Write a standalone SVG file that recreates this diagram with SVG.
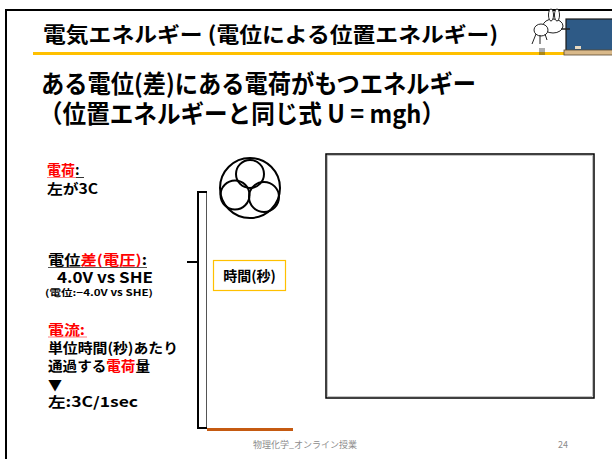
<svg xmlns="http://www.w3.org/2000/svg" width="612" height="459" viewBox="0 0 612 459">
  <style>
    .jp { font-family: "Noto Sans CJK JP", "Noto Sans", sans-serif; }
    .b { font-weight: bold; }
    .red { fill: #FF0000; }
    .ink { fill: #000000; }
    .line { fill: none; stroke: #000000; }
    .foot { font-family: "Noto Sans CJK JP", "Noto Sans", sans-serif; fill: #8C8C8C; font-size: 9px; }
  </style>

  <rect x="0" y="0" width="612" height="459" fill="#FFFFFF"/>

  <!-- slide frame -->
  <g id="frame">
    <line x1="6" y1="10" x2="612" y2="10" stroke="#000" stroke-width="2"/>
    <line x1="6" y1="9" x2="6" y2="459" stroke="#000" stroke-width="2"/>
  </g>

  <!-- title bar -->
  <g id="title">
    <text class="jp b ink" x="43" y="42" font-size="21" textLength="455" lengthAdjust="spacingAndGlyphs">電気エネルギー (電位による位置エネルギー)</text>
    <line x1="33" y1="53.5" x2="570" y2="53.5" stroke="#FFC000" stroke-width="3"/>
  </g>

  <!-- mascot with blackboard -->
  <g id="mascot">
    <rect x="566" y="19" width="48" height="32" fill="#2E5A86" stroke="#1A1A1A" stroke-width="1.2"/>
    <rect x="564" y="50" width="50" height="5" fill="#D9B98A" stroke="#5A4A30" stroke-width="0.8"/>
    <rect x="575" y="46" width="6" height="3" fill="#E8D9C0"/>
    <ellipse cx="553" cy="26" rx="10" ry="7" fill="#FFF" stroke="#222" stroke-width="1"/>
    <ellipse cx="551" cy="15" rx="2.5" ry="6" fill="#FFF" stroke="#222" stroke-width="1"/>
    <ellipse cx="557" cy="15" rx="2.5" ry="6" fill="#FFF" stroke="#222" stroke-width="1"/>
    <ellipse cx="541" cy="30" rx="7" ry="6" fill="#FFF" stroke="#222" stroke-width="1"/>
    <path d="M536 34 L532 44 M540 35 L540 44 M545 34 L547 40" stroke="#222" stroke-width="1" fill="none"/>
    <line x1="561" y1="29" x2="570" y2="29" stroke="#222" stroke-width="1.5"/>
    <path d="M540 48 v7 M542 48 v7 M544 48 v7" stroke="#333" stroke-width="0.8"/>
  </g>

  <!-- heading -->
  <g id="heading">
    <text class="jp b ink" x="41" y="93" font-size="25" textLength="435" lengthAdjust="spacingAndGlyphs">ある電位(差)にある電荷がもつエネルギー</text>
    <text class="jp b ink" x="39" y="123" font-size="25" textLength="406" lengthAdjust="spacingAndGlyphs">（位置エネルギーと同じ式  U = mgh）</text>
  </g>

  <!-- charge -->
  <g id="charge">
    <text class="jp b" x="47" y="175" font-size="14"><tspan class="red">電荷</tspan><tspan class="ink">:</tspan></text>
    <line x1="47" y1="177.5" x2="76" y2="177.5" stroke="#FF7F7F" stroke-width="1"/>
    <line x1="76" y1="177.5" x2="84" y2="177.5" stroke="#333" stroke-width="1"/>
    <text class="jp b ink" x="47" y="194" font-size="14" textLength="51" lengthAdjust="spacingAndGlyphs">左が3C</text>
  </g>

  <!-- potential difference -->
  <g id="voltage">
    <text class="jp b" x="48" y="265" font-size="14" textLength="99" lengthAdjust="spacingAndGlyphs"><tspan class="ink">電位</tspan><tspan class="red">差(電圧)</tspan><tspan class="ink">:</tspan></text>
    <line x1="48" y1="267.5" x2="147" y2="267.5" stroke="#555" stroke-width="1"/>
    <text class="jp b ink" x="57" y="283" font-size="15" textLength="96" lengthAdjust="spacingAndGlyphs">4.0V vs SHE</text>
    <text class="jp b ink" x="45" y="296" font-size="9" textLength="108" lengthAdjust="spacingAndGlyphs">(電位:−4.0V vs SHE)</text>
  </g>

  <!-- current -->
  <g id="current">
    <text class="jp b" x="48" y="335" font-size="14" textLength="37" lengthAdjust="spacingAndGlyphs"><tspan class="red">電流:</tspan></text>
    <line x1="48" y1="337" x2="87" y2="337" stroke="#FF7F7F" stroke-width="1"/>
    <text class="jp b ink" x="48" y="353" font-size="14" textLength="130" lengthAdjust="spacingAndGlyphs">単位時間(秒)あたり</text>
    <text class="jp b" x="48" y="371" font-size="14" textLength="102" lengthAdjust="spacingAndGlyphs"><tspan class="ink">通過する</tspan><tspan class="red">電荷</tspan><tspan class="ink">量</tspan></text>
    <text class="jp b ink" x="48" y="390" font-size="14">▼</text>
    <text class="jp b ink" x="48" y="407" font-size="14" textLength="90" lengthAdjust="spacingAndGlyphs">左:3C/1sec</text>
  </g>

  <!-- charge particle: three spheres in a shell -->
  <g id="particle" class="line" stroke-width="2">
    <circle cx="250" cy="188" r="30"/>
    <circle cx="250" cy="174" r="14"/>
    <circle cx="235" cy="195" r="14.5"/>
    <circle cx="264" cy="197" r="15"/>
  </g>

  <!-- time label -->
  <g id="time-box">
    <rect x="213.5" y="260.5" width="72" height="30" fill="#FFF" stroke="#FFC000" stroke-width="1.2"/>
    <text class="jp b ink" x="249.5" y="281" font-size="14" text-anchor="middle">時間(秒)</text>
  </g>

  <!-- connectors: brace, wall and ground -->
  <g id="connectors">
    <line x1="206.5" y1="192" x2="206.5" y2="428" stroke="#555" stroke-width="1"/>
    <path class="line" stroke-width="2" d="M207 192 H198 V428 H207 M198 262 H187"/>
    <line x1="207" y1="429.5" x2="293" y2="429.5" stroke="#C55A11" stroke-width="3"/>
  </g>

  <!-- empty panel -->
  <g id="panel">
    <rect x="326" y="154" width="268" height="244" fill="#FFF" stroke="#000" stroke-width="1.5"/>
    <rect x="327.5" y="155.5" width="265" height="241" fill="none" stroke="#9A9A9A" stroke-width="0.6"/>
  </g>

  <!-- footer -->
  <g id="footer">
    <text class="foot" x="253" y="448">物理化学_オンライン授業</text>
    <text class="foot" x="558" y="448">24</text>
  </g>
</svg>
